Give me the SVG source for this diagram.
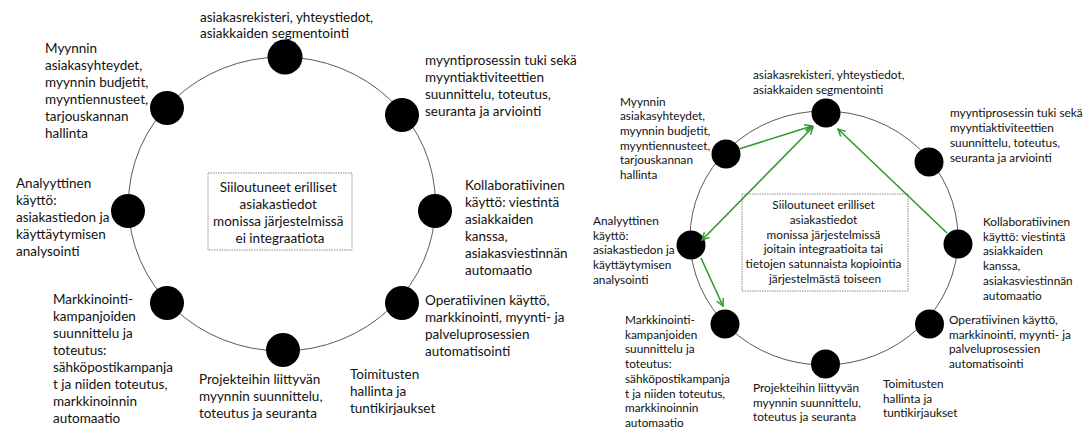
<svg xmlns="http://www.w3.org/2000/svg" width="1086" height="430" viewBox="0 0 1086 430">
  <defs>
    <style>
      .ring { fill: none; stroke: #5a5a5a; stroke-width: 1; }
      .dot { fill: #000; }
      .lbl { font-family: Lato, "Liberation Sans", sans-serif; fill: #111; }
      .big { font-size: 13.5px; }
      .small { font-size: 11.8px; }
      .mid { text-anchor: middle; }
      .box { fill: #fff; stroke: #8a8a8a; stroke-width: 1; stroke-dasharray: 1.5 1; }
      .link { fill: none; stroke: #2e9a2e; stroke-width: 1.6; }
    </style>
    <marker id="head" viewBox="0 0 10 10" refX="9" refY="5" markerWidth="9" markerHeight="9" markerUnits="userSpaceOnUse" orient="auto-start-reverse">
      <polyline points="1,1 9,5 1,9" fill="none" stroke="#2e9a2e" stroke-width="1.6"/>
    </marker>
  </defs>
  <rect width="1086" height="430" fill="#fff"/>

  <!-- left: isolated systems -->
  <ellipse class="ring" cx="282" cy="204" rx="153.5" ry="147"/>
  <g id="left-center">
    <rect class="box" x="208" y="173" width="144" height="77"/>
    <text class="lbl big mid" x="280" y="192">
      <tspan x="280">Siiloutuneet erilliset</tspan>
      <tspan x="280" dy="17">asiakastiedot</tspan>
      <tspan x="280" dy="17">monissa järjestelmissä</tspan>
      <tspan x="280" dy="17">ei integraatiota</tspan>
    </text>
  </g>
  <g id="l-top">
    <circle class="dot" cx="285" cy="57" r="17.5"/>
    <text class="lbl big" x="200" y="22">
      <tspan x="200">asiakasrekisteri, yhteystiedot,</tspan>
      <tspan x="200" dy="16">asiakkaiden segmentointi</tspan>
    </text>
  </g>
  <g id="l-sales">
    <circle class="dot" cx="167" cy="108" r="17"/>
    <text class="lbl big" x="45" y="53">
      <tspan x="45">Myynnin</tspan>
      <tspan x="45" dy="17">asiakasyhteydet,</tspan>
      <tspan x="45" dy="17">myynnin budjetit,</tspan>
      <tspan x="45" dy="17">myyntiennusteet,</tspan>
      <tspan x="45" dy="17">tarjouskannan</tspan>
      <tspan x="45" dy="17">hallinta</tspan>
    </text>
  </g>
  <g id="l-process">
    <circle class="dot" cx="402" cy="115" r="17"/>
    <text class="lbl big" x="425" y="65">
      <tspan x="425">myyntiprosessin tuki sekä</tspan>
      <tspan x="425" dy="17">myyntiaktiviteettien</tspan>
      <tspan x="425" dy="17">suunnittelu, toteutus,</tspan>
      <tspan x="425" dy="17">seuranta ja arviointi</tspan>
    </text>
  </g>
  <g id="l-analytic">
    <circle class="dot" cx="128" cy="211" r="17"/>
    <text class="lbl big" x="16" y="188">
      <tspan x="16">Analyyttinen</tspan>
      <tspan x="16" dy="17">käyttö:</tspan>
      <tspan x="16" dy="17">asiakastiedon ja</tspan>
      <tspan x="16" dy="17">käyttäytymisen</tspan>
      <tspan x="16" dy="17">analysointi</tspan>
    </text>
  </g>
  <g id="l-collab">
    <circle class="dot" cx="435" cy="211" r="17"/>
    <text class="lbl big" x="465" y="190">
      <tspan x="465">Kollaboratiivinen</tspan>
      <tspan x="465" dy="17">käyttö: viestintä</tspan>
      <tspan x="465" dy="17">asiakkaiden</tspan>
      <tspan x="465" dy="17">kanssa,</tspan>
      <tspan x="465" dy="17">asiakasviestinnän</tspan>
      <tspan x="465" dy="17">automaatio</tspan>
    </text>
  </g>
  <g id="l-operative">
    <circle class="dot" cx="402" cy="303" r="17"/>
    <text class="lbl big" x="425" y="305">
      <tspan x="425">Operatiivinen käyttö,</tspan>
      <tspan x="425" dy="17">markkinointi, myynti- ja</tspan>
      <tspan x="425" dy="17">palveluprosessien</tspan>
      <tspan x="425" dy="17">automatisointi</tspan>
    </text>
  </g>
  <g id="l-projects">
    <circle class="dot" cx="283" cy="350" r="17"/>
    <text class="lbl big" x="199" y="384">
      <tspan x="199">Projekteihin liittyvän</tspan>
      <tspan x="199" dy="17">myynnin suunnittelu,</tspan>
      <tspan x="199" dy="17">toteutus ja seuranta</tspan>
    </text>
  </g>
  <g id="l-delivery">
    <text class="lbl big" x="350" y="379">
      <tspan x="350">Toimitusten</tspan>
      <tspan x="350" dy="17">hallinta ja</tspan>
      <tspan x="350" dy="17">tuntikirjaukset</tspan>
    </text>
  </g>
  <g id="l-marketing">
    <circle class="dot" cx="167" cy="303" r="17"/>
    <text class="lbl big" x="53" y="304">
      <tspan x="53">Markkinointi-</tspan>
      <tspan x="53" dy="17">kampanjoiden</tspan>
      <tspan x="53" dy="17">suunnittelu ja</tspan>
      <tspan x="53" dy="17">toteutus:</tspan>
      <tspan x="53" dy="17">sähköpostikampanja</tspan>
      <tspan x="53" dy="17">t ja niiden toteutus,</tspan>
      <tspan x="53" dy="17">markkinoinnin</tspan>
      <tspan x="53" dy="17">automaatio</tspan>
    </text>
  </g>

  <!-- right: partly integrated systems -->
  <ellipse class="ring" cx="824" cy="238" rx="134" ry="127"/>
  <g id="right-center">
    <rect class="box" x="742" y="194" width="166" height="97"/>
    <text class="lbl small mid" x="825" y="209">
      <tspan x="825">Siiloutuneet erilliset</tspan>
      <tspan x="825" dy="14.8">asiakastiedot</tspan>
      <tspan x="825" dy="14.8">monissa järjestelmissä</tspan>
      <tspan x="825" dy="14.8">joitain integraatioita tai</tspan>
      <tspan x="825" dy="14.8">tietojen satunnaista kopiointia</tspan>
      <tspan x="825" dy="14.8">järjestelmästä toiseen</tspan>
    </text>
  </g>
  <g id="r-top">
    <circle class="dot" cx="826" cy="113" r="14.5"/>
    <text class="lbl small" x="753" y="79">
      <tspan x="753">asiakasrekisteri, yhteystiedot,</tspan>
      <tspan x="753" dy="15">asiakkaiden segmentointi</tspan>
    </text>
  </g>
  <g id="r-sales">
    <circle class="dot" cx="726" cy="154" r="14.5"/>
    <text class="lbl small" x="620" y="105.5">
      <tspan x="620">Myynnin</tspan>
      <tspan x="620" dy="14.7">asiakasyhteydet,</tspan>
      <tspan x="620" dy="14.7">myynnin budjetit,</tspan>
      <tspan x="620" dy="14.7">myyntiennusteet,</tspan>
      <tspan x="620" dy="14.7">tarjouskannan</tspan>
      <tspan x="620" dy="14.7">hallinta</tspan>
    </text>
  </g>
  <g id="r-process">
    <circle class="dot" cx="929" cy="162" r="14.5"/>
    <text class="lbl small" x="950" y="117">
      <tspan x="950">myyntiprosessin tuki sekä</tspan>
      <tspan x="950" dy="15">myyntiaktiviteettien</tspan>
      <tspan x="950" dy="15">suunnittelu, toteutus,</tspan>
      <tspan x="950" dy="15">seuranta ja arviointi</tspan>
    </text>
  </g>
  <g id="r-analytic">
    <circle class="dot" cx="691" cy="245" r="14.5"/>
    <text class="lbl small" x="593" y="225">
      <tspan x="593">Analyyttinen</tspan>
      <tspan x="593" dy="14.7">käyttö:</tspan>
      <tspan x="593" dy="14.7">asiakastiedon ja</tspan>
      <tspan x="593" dy="14.7">käyttäytymisen</tspan>
      <tspan x="593" dy="14.7">analysointi</tspan>
    </text>
  </g>
  <g id="r-collab">
    <circle class="dot" cx="958" cy="244" r="14.5"/>
    <text class="lbl small" x="983" y="226">
      <tspan x="983">Kollaboratiivinen</tspan>
      <tspan x="983" dy="14.7">käyttö: viestintä</tspan>
      <tspan x="983" dy="14.7">asiakkaiden</tspan>
      <tspan x="983" dy="14.7">kanssa,</tspan>
      <tspan x="983" dy="14.7">asiakasviestinnän</tspan>
      <tspan x="983" dy="14.7">automaatio</tspan>
    </text>
  </g>
  <g id="r-operative">
    <circle class="dot" cx="929.5" cy="324" r="14.5"/>
    <text class="lbl small" x="949" y="324">
      <tspan x="949">Operatiivinen käyttö,</tspan>
      <tspan x="949" dy="14.6">markkinointi, myynti- ja</tspan>
      <tspan x="949" dy="14.6">palveluprosessien</tspan>
      <tspan x="949" dy="14.6">automatisointi</tspan>
    </text>
  </g>
  <g id="r-projects">
    <circle class="dot" cx="825.5" cy="364" r="14.5"/>
    <text class="lbl small" x="753" y="392">
      <tspan x="753">Projekteihin liittyvän</tspan>
      <tspan x="753" dy="14.7">myynnin suunnittelu,</tspan>
      <tspan x="753" dy="14.7">toteutus ja seuranta</tspan>
    </text>
  </g>
  <g id="r-delivery">
    <text class="lbl small" x="883" y="388">
      <tspan x="883">Toimitusten</tspan>
      <tspan x="883" dy="14.7">hallinta ja</tspan>
      <tspan x="883" dy="14.7">tuntikirjaukset</tspan>
    </text>
  </g>
  <g id="r-marketing">
    <circle class="dot" cx="725" cy="324" r="14.5"/>
    <text class="lbl small" x="625" y="324">
      <tspan x="625">Markkinointi-</tspan>
      <tspan x="625" dy="14.7">kampanjoiden</tspan>
      <tspan x="625" dy="14.7">suunnittelu ja</tspan>
      <tspan x="625" dy="14.7">toteutus:</tspan>
      <tspan x="625" dy="14.7">sähköpostikampanja</tspan>
      <tspan x="625" dy="14.7">t ja niiden toteutus,</tspan>
      <tspan x="625" dy="14.7">markkinoinnin</tspan>
      <tspan x="625" dy="14.7">automaatio</tspan>
    </text>
  </g>

  <!-- data flows between systems -->
  <g id="connectors">
    <line class="link" x1="739" y1="149" x2="812" y2="126" marker-end="url(#head)"/>
    <line class="link" x1="702" y1="240" x2="813" y2="127" marker-start="url(#head)" marker-end="url(#head)"/>
    <line class="link" x1="947" y1="233" x2="838" y2="129" marker-end="url(#head)"/>
    <line class="link" x1="701" y1="258" x2="723" y2="306" marker-end="url(#head)"/>
  </g>
</svg>
